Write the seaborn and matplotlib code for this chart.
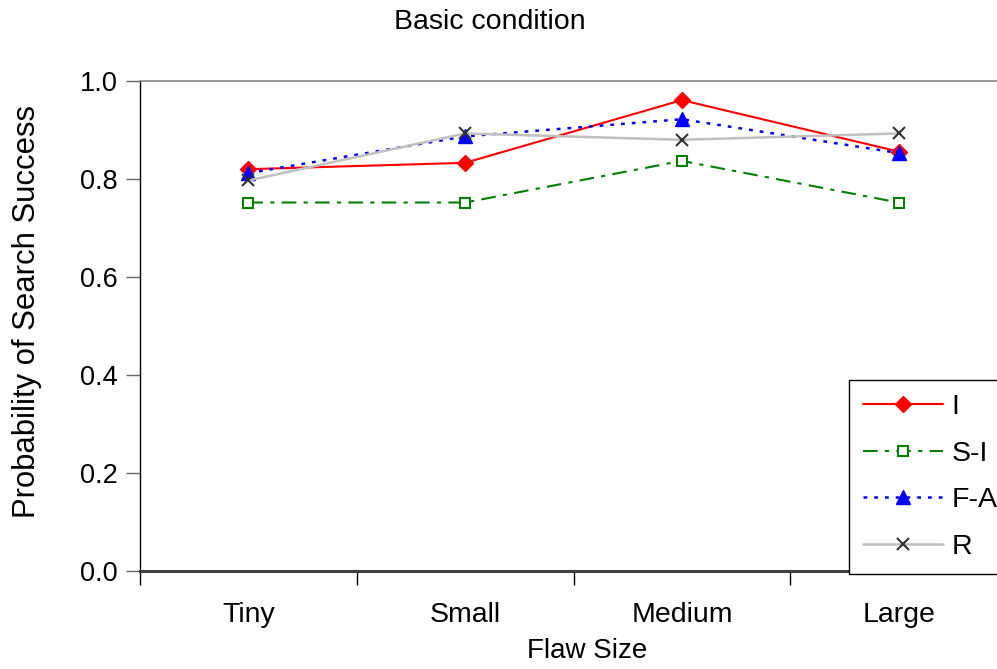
import matplotlib
matplotlib.use("Agg")
import matplotlib.pyplot as plt
import seaborn as sns
import pandas as pd

categories = ["Tiny", "Small", "Medium", "Large"]
series_names = ["I", "S-I", "F-A", "R"]
values_I = [0.820, 0.833, 0.961, 0.856]
values_SI = [0.752, 0.752, 0.837, 0.752]
values_FA = [0.812, 0.887, 0.922, 0.853]
values_R = [0.797, 0.893, 0.880, 0.893]
y_ticks = [0.0, 0.2, 0.4, 0.6, 0.8, 1.0]
y_tick_labels = ["0.0", "0.2", "0.4", "0.6", "0.8", "1.0"]

sns.set_theme(style="white")
plt.rcParams["font.family"] = ["Liberation Sans", "DejaVu Sans"]
plt.rcParams["text.color"] = "black"
plt.rcParams["axes.labelcolor"] = "black"
plt.rcParams["xtick.color"] = "black"
plt.rcParams["ytick.color"] = "black"

fig = plt.figure(figsize=(9.97, 6.69), dpi=100)
ax = fig.add_axes([140 / 997, 1 - 571 / 669, (1007 - 140) / 997, (571 - 81) / 669])

styles = {
    "I": dict(color="#ff0000", lw=1.5, linestyle="-", marker="D", ms=8,
              mfc="#ff0000", mec="#ff0000", mew=1),
    "S-I": dict(color="#008000", lw=1.5, linestyle=(0, (7, 3.5, 2, 3.5)), marker="s", ms=7.5,
                mfc="white", mec="#008000", mew=1.5),
    "F-A": dict(color="#0000ff", lw=1.8, linestyle=(0, (1.5, 2.8)), marker="^", ms=10,
                mfc="#0000ff", mec="#0000ff", mew=1),
    "R": dict(color="#c0c0c0", lw=1.8, linestyle="-", marker="x", ms=9,
              mfc="#333333", mec="#333333", mew=1.5),
}
data = {"I": values_I, "S-I": values_SI, "F-A": values_FA, "R": values_R}

for name in series_names:
    df = pd.DataFrame({"size": categories, "p": data[name]})
    st = styles[name]
    sns.lineplot(data=df, x="size", y="p", ax=ax, label=name, sort=False,
                 color=st["color"], linewidth=st["lw"], linestyle=st["linestyle"],
                 marker=st["marker"], markersize=st["ms"], markerfacecolor=st["mfc"],
                 markeredgecolor=st["mec"], markeredgewidth=st["mew"])

ax.set_xlim(-0.5, 3.5)
ax.set_ylim(0, 1.0)
ax.set_yticks(y_ticks)
ax.set_yticklabels(y_tick_labels, fontsize=19.5)
ax.set_xticks([-0.5, 0.5, 1.5, 2.5, 3.5])
ax.set_xticklabels([""] * 5)
ax.set_xticks([0, 1, 2, 3], minor=True)
ax.set_xticklabels(categories, minor=True, fontsize=20.5)
ax.tick_params(axis="x", which="major", direction="out", length=10, width=1, color="black", bottom=True)
ax.tick_params(axis="x", which="minor", length=0, pad=22, bottom=True)
ax.tick_params(axis="y", which="major", direction="out", length=10, width=1, color="#666666", left=True, pad=6)
ax.set_xlabel("")
ax.set_ylabel("")
ax.grid(False)

ax.spines["left"].set_color("black")
ax.spines["left"].set_linewidth(1)
ax.spines["top"].set_color("#888888")
ax.spines["top"].set_linewidth(1.2)
ax.spines["bottom"].set_color("#404040")
ax.spines["bottom"].set_linewidth(2.2)
ax.spines["right"].set_color("#888888")

fig.text(490 / 997, 1 - 22 / 669, "Basic condition", ha="center", va="center", fontsize=20.5)
fig.text(587 / 997, 1 - 651 / 669, "Flaw Size", ha="center", va="center", fontsize=20)
fig.text(27 / 997, 1 - 312 / 669, "Probability of Search Success", ha="center", va="center",
         rotation=90, fontsize=22.3)

leg = ax.legend(loc="upper left", bbox_to_anchor=(849 / 997, 1 - 380 / 669),
                bbox_transform=fig.transFigure, fontsize=20.5, frameon=True, fancybox=False,
                shadow=False, handlelength=2.8, handletextpad=0.3, labelspacing=0.72,
                borderpad=0.5, borderaxespad=0)
leg.get_frame().set_edgecolor("black")
leg.get_frame().set_linewidth(1)
leg.get_frame().set_facecolor("white")
leg.get_frame().set_alpha(1)

fig.savefig("out.png", dpi=100)
